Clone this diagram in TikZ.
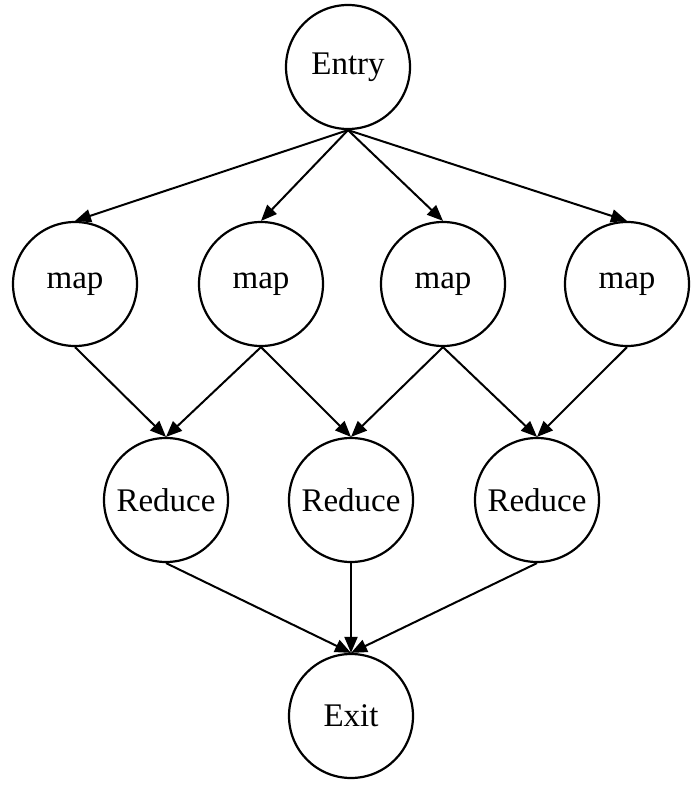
\documentclass[tikz,border=0pt]{standalone}
\usepackage{fontspec}
\setmainfont{Liberation Serif}
\usetikzlibrary{arrows.meta}
\begin{document}
\begin{tikzpicture}[x=1pt,y=-1pt,
  stage/.style={circle,draw=black,line width=2.2pt,minimum size=124pt,inner sep=0pt,
    font=\fontsize{33}{33}\selectfont},
  flow/.style={line width=2pt,-{Triangle[length=16pt,width=13pt]}}]
\useasboundingbox (0,0) rectangle (693,791);
\node[stage] (entry) at (348,67) {Entry};
\node[stage] (m1) at (75,284) {map};
\node[stage] (m2) at (261,284) {map};
\node[stage] (m3) at (443,284) {map};
\node[stage] (m4) at (627,284) {map};
\node[stage] (r1) at (166,500) {Reduce};
\node[stage] (r2) at (351,500) {Reduce};
\node[stage] (r3) at (537,500) {Reduce};
\node[stage] (exit) at (351,716) {Exit};
\foreach \m in {m1,m2,m3,m4} \draw[flow] (entry.south) -- (\m.north);
\draw[flow] (m1.south) -- (r1.north);
\draw[flow] (m2.south) -- (r1.north);
\draw[flow] (m2.south) -- (r2.north);
\draw[flow] (m3.south) -- (r2.north);
\draw[flow] (m3.south) -- (r3.north);
\draw[flow] (m4.south) -- (r3.north);
\foreach \r in {r1,r2,r3} \draw[flow] (\r.south) -- (exit.north);
\end{tikzpicture}
\end{document}
